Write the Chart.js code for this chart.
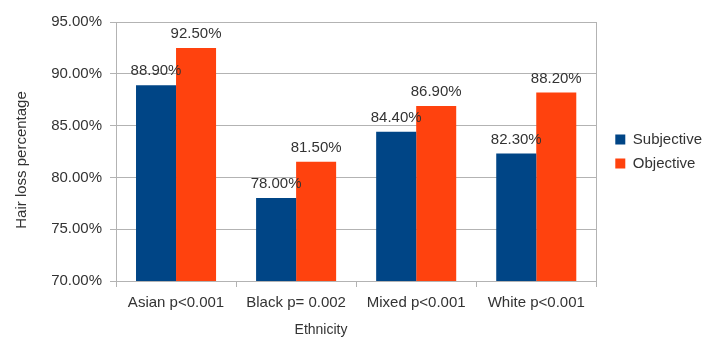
<!DOCTYPE html>
<html>
<head>
<meta charset="utf-8">
<script src="https://cdn.jsdelivr.net/npm/chart.js@4.4.1/dist/chart.umd.min.js"></script>
<style>
  html, body { margin: 0; padding: 0; background: #fff; }
  #wrap { width: 717px; height: 337px; }
</style>
</head>
<body>
<div id="wrap"><canvas id="hairChart"></canvas></div>
<script>
// 민족별 탈모 비율 (주관적 / 객관적)
const ethnicities = ['Asian p<0.001', 'Black p= 0.002', 'Mixed p<0.001', 'White p<0.001'];
const subjective = [88.9, 78.0, 84.4, 82.3];
const objective = [92.5, 81.5, 86.9, 88.2];
const yMin = 70;
const yMax = 95;
const yStep = 5;

const gridColor = '#b3b3b3';
const textColor = '#333333';
const fontFamily = '"Liberation Sans", Arial, sans-serif';

// 막대 위에 값 표시
const valueLabels = {
    id: 'valueLabels',
    afterDatasetsDraw(chart) {
        const ctx = chart.ctx;
        ctx.save();
        ctx.fillStyle = textColor;
        ctx.font = '15px ' + fontFamily;
        ctx.textAlign = 'center';
        ctx.textBaseline = 'middle';
        chart.data.datasets.forEach((ds, i) => {
            chart.getDatasetMeta(i).data.forEach((bar, j) => {
                ctx.fillText(ds.data[j].toFixed(2) + '%', bar.x, bar.y - 14);
            });
        });
        ctx.restore();
    }
};

// 축 제목 직접 그리기
const axisTitles = {
    id: 'axisTitles',
    afterDraw(chart) {
        const ctx = chart.ctx;
        ctx.save();
        ctx.fillStyle = textColor;
        ctx.font = '14px ' + fontFamily;
        ctx.textAlign = 'center';
        ctx.textBaseline = 'middle';
        ctx.fillText('Ethnicity', 321, 330);
        ctx.translate(22, 160);
        ctx.rotate(-Math.PI / 2);
        ctx.font = '15px ' + fontFamily;
        ctx.fillText('Hair loss percentage', 0, 0);
        ctx.restore();
    }
};

new Chart(document.getElementById('hairChart').getContext('2d'), {
    type: 'bar',
    data: {
        labels: ethnicities,
        datasets: [
            {
                label: 'Subjective',
                data: subjective,
                backgroundColor: '#004586',
                categoryPercentage: 2 / 3,
                barPercentage: 1
            },
            {
                label: 'Objective',
                data: objective,
                backgroundColor: '#ff420e',
                categoryPercentage: 2 / 3,
                barPercentage: 1
            }
        ]
    },
    options: {
        responsive: true,
        maintainAspectRatio: false,
        animation: false,
        layout: { padding: { top: 22, right: 5, bottom: 0, left: 0 } },
        scales: {
            x: {
                grid: {
                    offset: true,
                    drawOnChartArea: false,
                    color: gridColor,
                    tickLength: 6
                },
                border: { color: gridColor },
                ticks: {
                    color: textColor,
                    font: { size: 15, family: fontFamily },
                    padding: 7,
                    maxRotation: 0
                },
                afterFit: s => { s.height = 56; }
            },
            y: {
                min: yMin,
                max: yMax,
                grid: { color: gridColor, tickLength: 6 },
                border: { color: gridColor },
                ticks: {
                    stepSize: yStep,
                    color: textColor,
                    font: { size: 15, family: fontFamily },
                    padding: 8,
                    callback: v => v.toFixed(2) + '%'
                },
                afterFit: s => { s.width = 116; }
            },
            frame: {
                position: 'right',
                display: true,
                grid: { display: false },
                ticks: { display: false },
                border: { display: true, color: gridColor },
                afterFit: s => { s.width = 10; }
            }
        },
        plugins: {
            legend: {
                position: 'right',
                fullSize: false,
                labels: {
                    boxWidth: 10,
                    boxHeight: 10,
                    padding: 9,
                    color: textColor,
                    font: { size: 15, family: fontFamily }
                }
            },
            tooltip: { enabled: false }
        }
    },
    plugins: [valueLabels, axisTitles]
});
</script>
</body>
</html>
